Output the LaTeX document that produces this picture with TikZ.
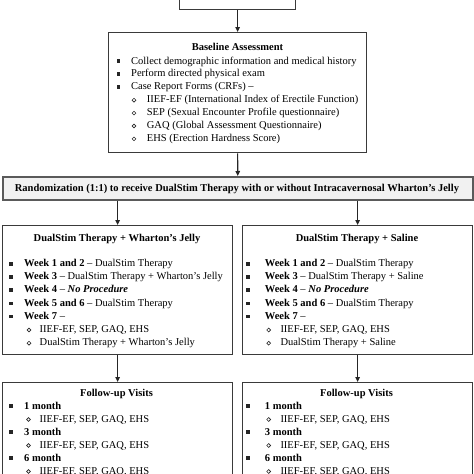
\documentclass[tikz,border=0pt]{standalone}
\usepackage{fontspec}
\setmainfont{Liberation Serif}
\usetikzlibrary{arrows.meta}
\definecolor{boxline}{HTML}{3A3A3A}
\definecolor{randfill}{HTML}{F1F1F1}
\definecolor{randline}{HTML}{5A5A5A}
\tikzset{
  box/.style={draw=boxline, line width=1.3pt, rectangle, inner sep=0pt, anchor=north west},
  randbox/.style={box, draw=randline, line width=1.6pt, fill=randfill},
  ln/.style={anchor=base west, inner sep=0pt, font=\fontsize{10.5}{12}\selectfont, text=black},
  ttl/.style={anchor=base, inner sep=0pt, font=\fontsize{10.5}{12}\selectfont\bfseries, text=black},
  arr/.style={draw=black!85, line width=1.1pt, -{Triangle[length=5pt,width=4.5pt]}},
}
\newcommand\Bul[5]{%
  \fill[black!85] (#2-1.8,#4-4.6) rectangle (#2+1.8,#4-1.0);
  \node[ln] (#1) at (#3,#4) {#5};}
\newcommand\Sub[5]{%
  \draw[black!85, line width=0.6pt] (#2,#4-2.5) circle (1.9pt);
  \node[ln] (#1) at (#3,#4) {#5};}
\begin{document}
\begin{tikzpicture}[x=1pt,y=-1pt]
\useasboundingbox (0,0) rectangle (474,474);
\clip (0,0) rectangle (474,474);
% boxes
\node[box, minimum width=116pt, minimum height=49pt] (top) at (179,-40) {};
\node[box, minimum width=258pt, minimum height=120pt] (base) at (108,32) {};
\node[randbox, minimum width=470pt, minimum height=23pt] (rand) at (2,176) {};
\node[box, minimum width=230pt, minimum height=129pt] (lbox) at (2,225) {};
\node[box, minimum width=230pt, minimum height=129pt] (rbox) at (242,225) {};
\node[box, minimum width=230pt, minimum height=120pt] (lfol) at (2,382) {};
\node[box, minimum width=230pt, minimum height=120pt] (rfol) at (242,382) {};
% arrows
\draw[arr] (top.south) -- (base.north);
\draw[arr] (base.south) -- (rand.north);
\draw[arr] (rand.south -| lbox.north) -- (lbox.north);
\draw[arr] (rand.south -| rbox.north) -- (rbox.north);
\draw[arr] (lbox.south) -- (lfol.north);
\draw[arr] (rbox.south) -- (rfol.north);
% baseline assessment
\node[ttl] (bt) at (237.5,50.5) {Baseline Assessment};
\Bul{b1}{118.3}{131}{64}{Collect demographic information and medical history}
\Bul{b2}{118.3}{131}{76.9}{Perform directed physical exam}
\Bul{b3}{118.3}{131}{89.8}{Case Report Forms (CRFs) –}
\Sub{b4}{134}{146.7}{102.7}{IIEF-EF (International Index of Erectile Function)}
\Sub{b5}{134}{146.7}{115.6}{SEP (Sexual Encounter Profile questionnaire)}
\Sub{b6}{134}{146.7}{128.5}{GAQ (Global Assessment Questionnaire)}
\Sub{b7}{134}{146.7}{141.4}{EHS (Erection Hardness Score)}
% randomization
\node[ttl] (rt) at (237,191) {Randomization (1:1) to receive DualStim Therapy with or without Intracavernosal Wharton’s Jelly};
% left arm
\node[ttl] (lt) at (117,241.5) {DualStim Therapy + Wharton’s Jelly};
\Bul{l1}{11}{24}{266.5}{\textbf{Week 1 and 2} – DualStim Therapy}
\Bul{l2}{11}{24}{279.7}{\textbf{Week 3} – DualStim Therapy + Wharton’s Jelly}
\Bul{l3}{11}{24}{292.9}{\textbf{Week 4} – \textbf{\textit{No Procedure}}}
\Bul{l4}{11}{24}{306.1}{\textbf{Week 5 and 6} – DualStim Therapy}
\Bul{l5}{11}{24}{319.3}{\textbf{Week 7} –}
\Sub{l6}{29}{39.5}{332.5}{IIEF-EF, SEP, GAQ, EHS}
\Sub{l7}{29}{39.5}{345.7}{DualStim Therapy + Wharton’s Jelly}
% right arm
\node[ttl] (rt2) at (357,241.5) {DualStim Therapy + Saline};
\Bul{r1}{248}{264.7}{266.5}{\textbf{Week 1 and 2} – DualStim Therapy}
\Bul{r2}{248}{264.7}{279.7}{\textbf{Week 3} – DualStim Therapy + Saline}
\Bul{r3}{248}{264.7}{292.9}{\textbf{Week 4} – \textbf{\textit{No Procedure}}}
\Bul{r4}{248}{264.7}{306.1}{\textbf{Week 5 and 6} – DualStim Therapy}
\Bul{r5}{248}{264.7}{319.3}{\textbf{Week 7} –}
\Sub{r6}{268.7}{280.3}{332.5}{IIEF-EF, SEP, GAQ, EHS}
\Sub{r7}{268.7}{280.3}{345.7}{DualStim Therapy + Saline}
% follow-up left
\node[ttl] (ft) at (116.5,396) {Follow-up Visits};
\Bul{f1}{11}{24}{409}{\textbf{1 month}}
\Sub{f2}{28.5}{39.5}{422}{IIEF-EF, SEP, GAQ, EHS}
\Bul{f3}{11}{24}{435}{\textbf{3 month}}
\Sub{f4}{28.5}{39.5}{448}{IIEF-EF, SEP, GAQ, EHS}
\Bul{f5}{11}{24}{461}{\textbf{6 month}}
\Sub{f6}{28.5}{39.5}{474}{IIEF-EF, SEP, GAQ, EHS}
% follow-up right
\node[ttl] (ft2) at (356.5,396) {Follow-up Visits};
\Bul{g1}{248}{264.7}{409}{\textbf{1 month}}
\Sub{g2}{268.7}{280.3}{422}{IIEF-EF, SEP, GAQ, EHS}
\Bul{g3}{248}{264.7}{435}{\textbf{3 month}}
\Sub{g4}{268.7}{280.3}{448}{IIEF-EF, SEP, GAQ, EHS}
\Bul{g5}{248}{264.7}{461}{\textbf{6 month}}
\Sub{g6}{268.7}{280.3}{474}{IIEF-EF, SEP, GAQ, EHS}
\end{tikzpicture}
\end{document}
